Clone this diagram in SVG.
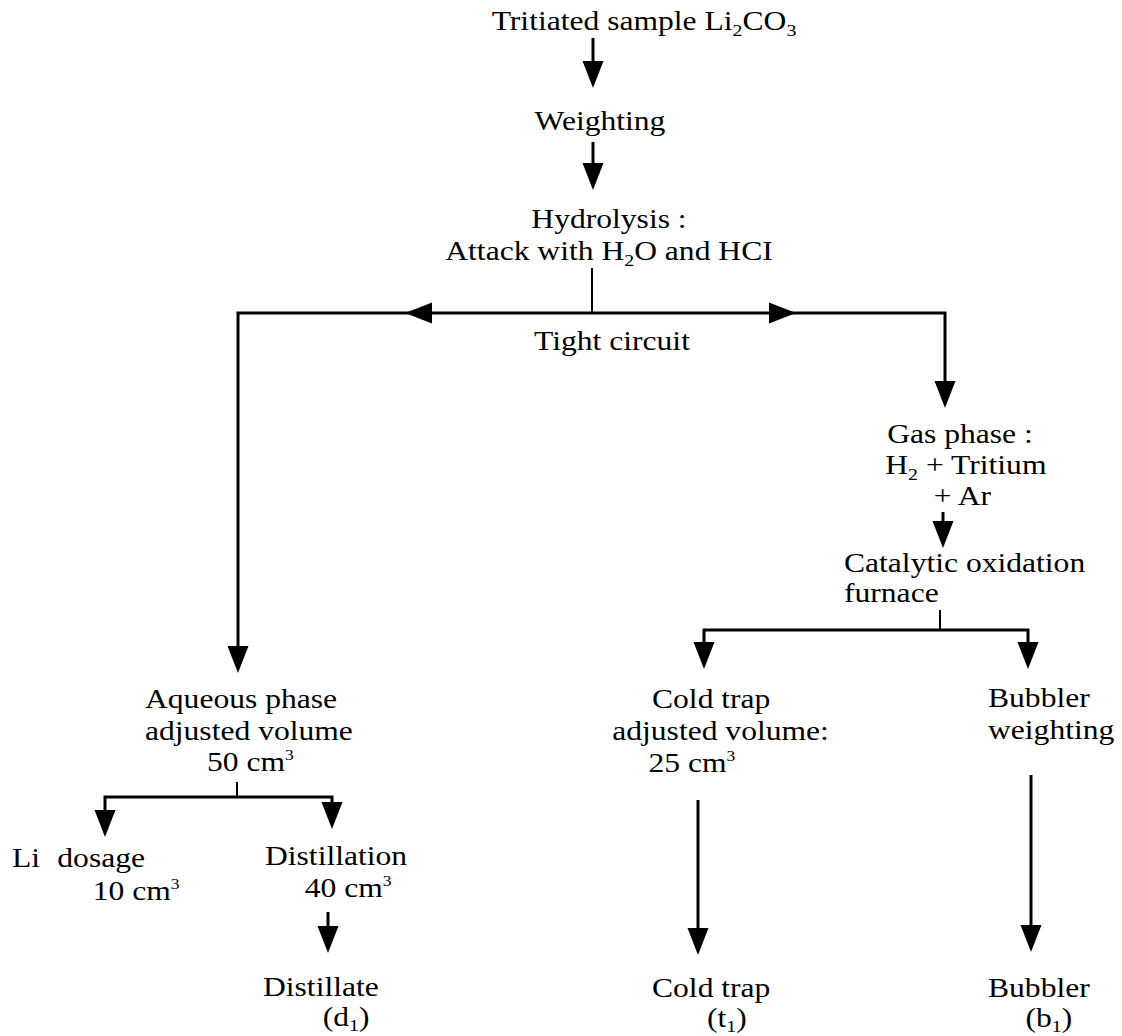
<svg xmlns="http://www.w3.org/2000/svg" xmlns:xlink="http://www.w3.org/1999/xlink" width="1122" height="1036" viewBox="0 0 1122 1036">
<style>
  text { font-family: "Liberation Serif", "Times New Roman", serif; font-size: 27px; fill: #000; }
  .sub { font-size: 17px; }
  .sup { font-size: 15px; }
  .ln { fill: none; stroke: #000; stroke-width: 3; }
  .ln2 { fill: none; stroke: #000; stroke-width: 2; }
  .ah { fill: #000; }
</style>
<defs>
  <path id="ah" d="M-10.5,-27 L10.5,-27 L0,0 Z"/>
</defs>
<rect width="1122" height="1036" fill="#fff"/>

<g id="connectors">
  <line class="ln" x1="593" y1="38" x2="593" y2="64"/>
  <use href="#ah" class="ah" transform="translate(593,88)"/>
  <line class="ln" x1="593" y1="142" x2="593" y2="166"/>
  <use href="#ah" class="ah" transform="translate(593,190)"/>
  <line class="ln2" x1="592" y1="268" x2="592" y2="313"/>
  <path class="ln" d="M238,650 V313 H945 V386"/>
  <use href="#ah" class="ah" transform="translate(405,313) rotate(90)"/>
  <use href="#ah" class="ah" transform="translate(796,313) rotate(-90)"/>
  <use href="#ah" class="ah" transform="translate(238,673)"/>
  <use href="#ah" class="ah" transform="translate(945,408)"/>
  <text x="612" y="350" text-anchor="middle" transform="translate(612,0) scale(1.17,1) translate(-612,0)">Tight circuit</text>
  <line class="ln" x1="943" y1="512" x2="943" y2="526"/>
  <use href="#ah" class="ah" transform="translate(943,548)"/>
  <line class="ln2" x1="940" y1="610" x2="940" y2="630"/>
  <path class="ln" d="M704,646 V630 H1028 V646"/>
  <use href="#ah" class="ah" transform="translate(704,669)"/>
  <use href="#ah" class="ah" transform="translate(1028,669)"/>
  <line class="ln2" x1="237" y1="782" x2="237" y2="797"/>
  <path class="ln" d="M105,814 V797 H332 V806"/>
  <use href="#ah" class="ah" transform="translate(105,837)"/>
  <use href="#ah" class="ah" transform="translate(332,829)"/>
  <line class="ln" x1="328" y1="912" x2="328" y2="930"/>
  <use href="#ah" class="ah" transform="translate(328,953)"/>
  <line class="ln" x1="698" y1="800" x2="698" y2="932"/>
  <use href="#ah" class="ah" transform="translate(698,955)"/>
  <line class="ln" x1="1031" y1="775" x2="1031" y2="930"/>
  <use href="#ah" class="ah" transform="translate(1031,952)"/>
</g>

<g id="n-title" transform="translate(644,0) scale(1.17,1)">
  <text x="0" y="30" text-anchor="middle">Tritiated sample Li<tspan class="sub" dy="6">2</tspan><tspan dy="-6">CO</tspan><tspan class="sub" dy="6">3</tspan></text>
</g>
<g id="n-weighting" transform="translate(600,0) scale(1.17,1)">
  <text x="0" y="130" text-anchor="middle">Weighting</text>
</g>
<g id="n-hydrolysis" transform="translate(609,0) scale(1.17,1)">
  <text x="0" y="228" text-anchor="middle">Hydrolysis :</text>
  <text x="0" y="260" text-anchor="middle">Attack with H<tspan class="sub" dy="6">2</tspan><tspan dy="-6">O and HCI</tspan></text>
</g>
<g id="n-gas" transform="translate(960,0) scale(1.17,1)">
  <text x="0" y="443" text-anchor="middle">Gas phase :</text>
  <text x="5" y="474" text-anchor="middle">H<tspan class="sub" dy="6">2</tspan><tspan dy="-6"> + Tritium</tspan></text>
  <text x="2" y="505" text-anchor="middle">+ Ar</text>
</g>
<g id="n-catalytic" transform="translate(844,0) scale(1.17,1)">
  <text x="0" y="572">Catalytic oxidation</text>
  <text x="0" y="602">furnace</text>
</g>
<g id="n-aqueous" transform="translate(145,0) scale(1.17,1)">
  <text x="0" y="708">Aqueous phase</text>
  <text x="0" y="740">adjusted volume</text>
  <text x="53" y="771">50 cm<tspan class="sup" dy="-11">3</tspan></text>
</g>
<g id="n-li" transform="translate(12,0) scale(1.17,1)">
  <text x="0" y="867">Li<tspan dx="8"> dosage</tspan></text>
  <text x="69" y="900">10 cm<tspan class="sup" dy="-11">3</tspan></text>
</g>
<g id="n-distillation" transform="translate(265,0) scale(1.17,1)">
  <text x="0" y="865">Distillation</text>
  <text x="34" y="897">40 cm<tspan class="sup" dy="-11">3</tspan></text>
</g>
<g id="n-distillate" transform="translate(263,0) scale(1.17,1)">
  <text x="0" y="996">Distillate</text>
  <text x="51" y="1026">(d<tspan class="sub" dy="5">1</tspan><tspan dy="-5">)</tspan></text>
</g>
<g id="n-coldtrap" transform="translate(652,0) scale(1.17,1)">
  <text x="0" y="708">Cold trap</text>
  <text x="-34" y="740">adjusted volume:</text>
  <text x="-3" y="772">25 cm<tspan class="sup" dy="-11">3</tspan></text>
</g>
<g id="n-bubbler" transform="translate(988,0) scale(1.17,1)">
  <text x="0" y="707">Bubbler</text>
  <text x="0" y="739">weighting</text>
</g>
<g id="n-coldtrap-t1" transform="translate(652,0) scale(1.17,1)">
  <text x="0" y="997">Cold trap</text>
  <text x="47" y="1027">(t<tspan class="sub" dy="5">1</tspan><tspan dy="-5">)</tspan></text>
</g>
<g id="n-bubbler-b1" transform="translate(988,0) scale(1.17,1)">
  <text x="0" y="997">Bubbler</text>
  <text x="32" y="1027">(b<tspan class="sub" dy="5">1</tspan><tspan dy="-5">)</tspan></text>
</g>
</svg>
